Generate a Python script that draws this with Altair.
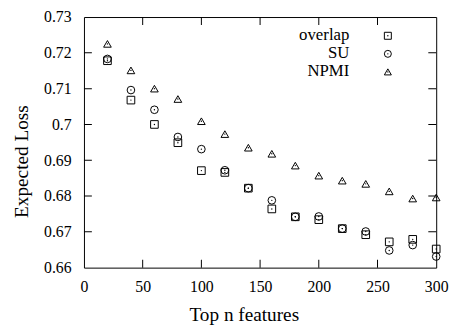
import altair as alt
import pandas as pd

# ---- data ----
n_features = [20, 40, 60, 80, 100, 120, 140, 160, 180, 200, 220, 240, 260, 280, 300]
overlap = [0.7178, 0.7068, 0.7000, 0.6949, 0.6871, 0.6866, 0.6822, 0.6764, 0.6742,
           0.6734, 0.6709, 0.6692, 0.6672, 0.6679, 0.6652]
su = [0.7183, 0.7096, 0.7041, 0.6965, 0.6931, 0.6872, 0.6822, 0.6788, 0.6742,
      0.6743, 0.6709, 0.6701, 0.6648, 0.6663, 0.6631]
npmi = [0.7225, 0.7151, 0.7100, 0.7071, 0.7009, 0.6973, 0.6935, 0.6918, 0.6885,
        0.6857, 0.6843, 0.6834, 0.6813, 0.6793, 0.6796]
series_names = ["overlap", "SU", "NPMI"]
series_shapes = ["square", "circle", "triangle-up"]
x_ticks = [0, 50, 100, 150, 200, 250, 300]
y_ticks = [0.66, 0.67, 0.68, 0.69, 0.70, 0.71, 0.72, 0.73]

FONT = "Liberation Serif"
W, H = 357, 254

rows = []
for name, vals in zip(series_names, [overlap, su, npmi]):
    for x, y in zip(n_features, vals):
        rows.append({"n": x, "loss": y, "series": name})
df = pd.DataFrame(rows)

xscale = alt.Scale(domain=[0, 300], nice=False, zero=False)
yscale = alt.Scale(domain=[0.66, 0.73], nice=False, zero=False)

xaxis = alt.Axis(values=x_ticks, format="d", labelBaseline="alphabetic", labelPadding=24,
                 titleX=162, titleY=54, titleAlign="center", titleBaseline="alphabetic")
yaxis = alt.Axis(values=y_ticks, format=".2~f", labelPadding=13, labelBaseline="middle",
                 titleX=-57, titleY=146, titleAlign="center", titleBaseline="alphabetic",
                 titleAngle=270)


def X(field):
    return alt.X(field, scale=xscale, title="Top n features", axis=xaxis)


def Y(field):
    return alt.Y(field, scale=yscale, title="Expected Loss", axis=yaxis)


base = alt.Chart(df)

points = base.mark_point(filled=False, stroke="black", strokeWidth=1, size=60, opacity=1).encode(
    x=X("n:Q"), y=Y("loss:Q"),
    shape=alt.Shape("series:N", scale=alt.Scale(domain=series_names, range=series_shapes),
                    legend=None),
)

dots = base.mark_circle(size=2, color="black", opacity=1).encode(x=X("n:Q"), y=Y("loss:Q"))

# inward ticks (gnuplot style, mirrored): centred on the frame, outer half clipped
xt = pd.DataFrame({"n": x_ticks[1:-1]})
yt = pd.DataFrame({"loss": y_ticks[1:-1]})
TL = 8
tick_style = dict(color="black", thickness=1, size=2 * TL, clip=True, opacity=1)
xt_bottom = alt.Chart(xt).mark_tick(orient="vertical", **tick_style).encode(
    x=X("n:Q"), y=alt.value(H))
xt_top = alt.Chart(xt).mark_tick(orient="vertical", **tick_style).encode(
    x=X("n:Q"), y=alt.value(0))
yt_left = alt.Chart(yt).mark_tick(orient="horizontal", **tick_style).encode(
    y=Y("loss:Q"), x=alt.value(0))
yt_right = alt.Chart(yt).mark_tick(orient="horizontal", **tick_style).encode(
    y=Y("loss:Q"), x=alt.value(W))

# legend (inside, top right)
legend_layers = []
for i, (name, shp) in enumerate(zip(series_names, series_shapes)):
    ld = pd.DataFrame({"label": [name]})
    cy = 19 + 18.3 * i
    legend_layers.append(
        alt.Chart(ld).mark_text(align="right", baseline="alphabetic", font=FONT,
                                fontSize=17, color="black").encode(
            text="label:N", x=alt.value(269), y=alt.value(cy + 4.5)))
    legend_layers.append(
        alt.Chart(ld).mark_point(filled=False, stroke="black", strokeWidth=1, size=50,
                                 opacity=1, shape=shp).encode(
            x=alt.value(308), y=alt.value(cy)))
    legend_layers.append(
        alt.Chart(ld).mark_circle(size=2, color="black", opacity=1).encode(
            x=alt.value(308), y=alt.value(cy)))

chart = alt.layer(points, dots, xt_bottom, xt_top, yt_left, yt_right, *legend_layers).properties(
    width=W, height=H,
    autosize=alt.AutoSizeParams(type="none"),
    padding={"left": 77, "top": 7, "right": 15, "bottom": 58},
    background="white",
).configure_view(
    stroke="black", strokeWidth=1
).configure_axis(
    grid=False, domain=False, ticks=False, tickSize=0,
    labelFont=FONT, labelFontSize=16, labelColor="black",
    labelOverlap=False, labelFlush=False,
    titleFont=FONT, titleFontSize=19.5, titleFontWeight="normal", titleColor="black",
)

chart.save("out.html", embed_options={"renderer": "svg", "actions": False})
